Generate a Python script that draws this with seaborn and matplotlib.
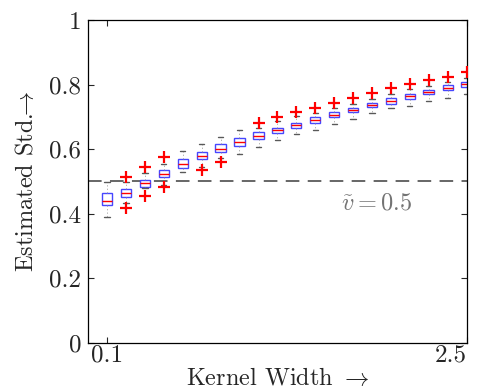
import numpy as np
import pandas as pd
import matplotlib
matplotlib.use('Agg')
import matplotlib.pyplot as plt
import seaborn as sns

# kernel widths (x positions of the boxes)
kernel_width = [0.100, 0.226, 0.353, 0.479, 0.605, 0.732, 0.858, 0.984, 1.111, 1.237,
                1.363, 1.489, 1.616, 1.742, 1.868, 1.995, 2.121, 2.247, 2.374, 2.500]

# five-number summaries
whisker_lo = [0.391, 0.434, 0.480, 0.489, 0.530, 0.546, 0.572, 0.584, 0.606, 0.628,
              0.647, 0.659, 0.678, 0.693, 0.711, 0.727, 0.735, 0.749, 0.759, 0.771]
q1 = [0.427, 0.451, 0.484, 0.513, 0.543, 0.570, 0.590, 0.611, 0.632, 0.650,
      0.666, 0.681, 0.700, 0.714, 0.730, 0.741, 0.755, 0.770, 0.783, 0.793]
median = [0.441, 0.463, 0.494, 0.523, 0.553, 0.580, 0.601, 0.623, 0.642, 0.659,
          0.674, 0.690, 0.707, 0.721, 0.736, 0.750, 0.764, 0.776, 0.790, 0.801]
q3 = [0.463, 0.476, 0.505, 0.536, 0.569, 0.590, 0.615, 0.634, 0.652, 0.667,
      0.681, 0.700, 0.715, 0.728, 0.742, 0.758, 0.771, 0.783, 0.799, 0.807]
whisker_hi = [0.498, 0.498, 0.525, 0.554, 0.594, 0.615, 0.637, 0.659, 0.667, 0.687,
              0.704, 0.713, 0.728, 0.739, 0.754, 0.770, 0.785, 0.797, 0.809, 0.821]

# outliers per box
outliers = [[], [0.417, 0.513], [0.455, 0.544], [0.482, 0.575], [], [0.536], [0.561], [],
            [0.682], [0.700], [0.716], [0.728], [0.743], [0.759], [0.773], [0.789],
            [0.801], [0.814], [0.824], [0.840]]

rows = []
for i, w in enumerate(kernel_width):
    for v in (whisker_lo[i], q1[i], median[i], q3[i], whisker_hi[i]):
        rows.append({'width': w, 'std': v})
df = pd.DataFrame(rows)

out_df = pd.DataFrame([{'width': kernel_width[i], 'std': v}
                       for i, vals in enumerate(outliers) for v in vals])

sns.set_style('ticks')
plt.rcParams['mathtext.fontset'] = 'cm'
plt.rcParams['font.family'] = ['cmr10', 'DejaVu Serif']
plt.rcParams['axes.formatter.use_mathtext'] = True

fig = plt.figure(figsize=(4.82, 3.92), dpi=100)
ax = fig.add_axes([0.183, 0.125, 0.785, 0.824])

ax.axhline(0.5, color='0.4', ls=(0, (7, 4.3)), lw=1.4, zorder=1)

sns.boxplot(data=df, x='width', y='std', native_scale=True, whis=(0, 100), width=0.55,
            color='white', linecolor='#4646ff', linewidth=1.0, showfliers=False,
            medianprops=dict(color='red', lw=1.0),
            whiskerprops=dict(color='0.6', ls=(0, (2, 3)), lw=0.5),
            capprops=dict(color='0.35', lw=1.0), ax=ax)

sns.scatterplot(data=out_df, x='width', y='std', marker='+', color='red',
                s=65, linewidth=1.6, ax=ax, zorder=4)

ax.text(1.90, 0.433, r'$\tilde{v} = 0.5$', color='0.45', fontsize=17.5,
        ha='center', va='center')

ax.set_xlim(kernel_width[0] - (kernel_width[1] - kernel_width[0]), kernel_width[-1])
ax.set_ylim(0, 1)
ax.set_xticks([kernel_width[0], kernel_width[-1]])
ax.set_xticklabels(['0.1', '2.5'])
ax.get_xticklabels()[1].set_horizontalalignment('right')
ax.set_yticks([0, 0.2, 0.4, 0.6, 0.8, 1])
ax.set_yticklabels(['0', '0.2', '0.4', '0.6', '0.8', '1'])
ax.tick_params(direction='in', length=4, width=0.8, top=True, right=True,
               labelsize=18)
ax.tick_params(axis='x', pad=1)
ax.tick_params(axis='y', pad=5)
for s in ax.spines.values():
    s.set_linewidth(0.9)
    s.set_color('black')

ax.set_xlabel(r'Kernel Width $\rightarrow$', fontsize=17.5, labelpad=0)
ax.set_ylabel(r'Estimated Std.$\!\!\rightarrow$', fontsize=17.5, labelpad=8)

plt.savefig('out.png', dpi=100)
plt.close()
